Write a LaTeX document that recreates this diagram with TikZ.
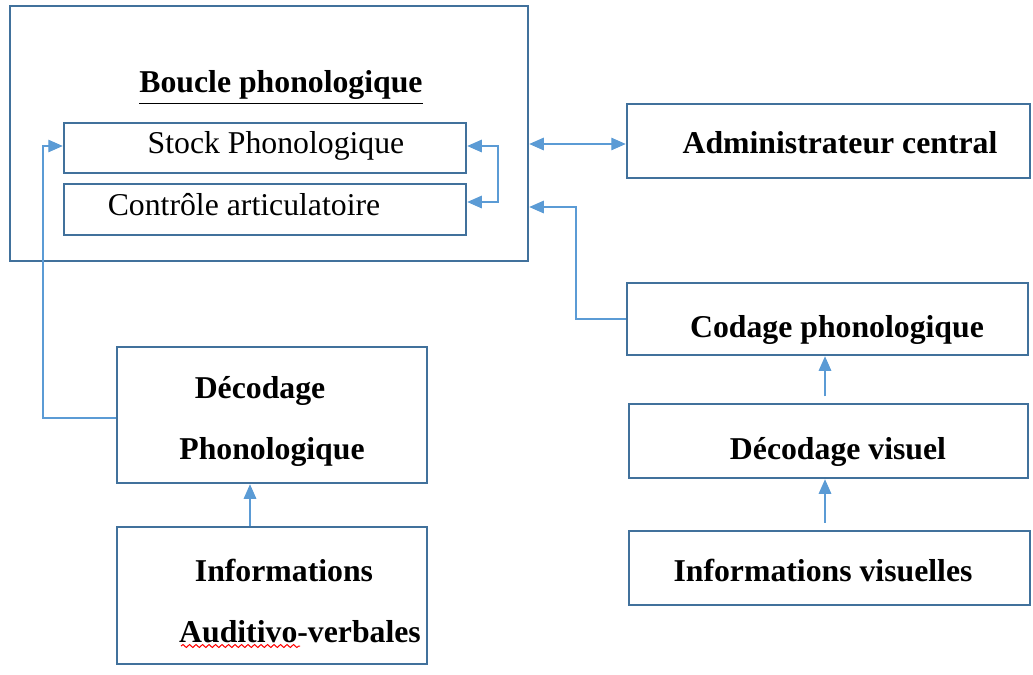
\documentclass[tikz,border=0pt]{standalone}
\usepackage{fontspec}
\setmainfont{Liberation Serif}
\usetikzlibrary{positioning,calc,arrows.meta,fit,decorations.pathmorphing}
\definecolor{boxblue}{HTML}{41719C}
\definecolor{linkblue}{HTML}{5B9BD5}

\begin{document}
\begin{tikzpicture}[x=0.4pt,y=-0.4pt,
box/.style={draw=boxblue,line width=1pt,inner sep=0pt,rectangle},
txt/.style={font=\fontsize{12.7pt}{15pt}\selectfont,inner sep=0pt,text height=0.95em,text depth=0.1em},
btxt/.style={txt,font=\fontsize{12.7pt}{15pt}\selectfont\bfseries},
link/.style={draw=linkblue,line width=0.5pt,-{Triangle[length=5.8pt,width=5pt]}},
dlink/.style={draw=linkblue,line width=0.5pt,{Triangle[length=5.8pt,width=5pt]}-{Triangle[length=5.8pt,width=5pt]}}]
\useasboundingbox (0,0) rectangle (1033,674);

% boxes
\node[box,fit={(10,6) (528,261)}](boucle){};
\node[box,fit={(64,123) (466,173)}](stock){};
\node[box,fit={(64,184) (466,235)}](ctrl){};
\node[box,fit={(627,104) (1030,178)}](admin){};
\node[box,fit={(627,283) (1028,355)}](codage){};
\node[box,fit={(629,404) (1028,478)}](decV){};
\node[box,fit={(629,531) (1030,605)}](infoV){};
\node[box,fit={(117,347) (427,483)}](decP){};
\node[box,fit={(117,527) (427,664)}](infoA){};

% texts
\node[btxt](boucleT) at (281,82){\underline{Boucle phonologique}};
\node[txt](stockT) at (276,143){Stock Phonologique};
\node[txt](ctrlT) at (244,205){Contrôle articulatoire};
\node[btxt](adminT) at (840,143){Administrateur central};
\node[btxt](codageT) at (837,327){Codage phonologique};
\node[btxt](decVT) at (838,449){Décodage visuel};
\node[btxt](infoVT) at (823,571){Informations visuelles};
\node[btxt](decPT1) at (260,388){Décodage};
\node[btxt](decPT2) at (272,449){Phonologique};
\node[btxt](infoAT1) at (284,571){Informations};
\node[btxt](infoAT2) at (300,632){Auditivo-verbales};
\draw[red,line width=0.4pt,decorate,decoration={snake,amplitude=0.6pt,segment length=2.6pt}]
  (181,646) -- (300,646);

% bends
\coordinate (brkT) at (498,146);
\coordinate (brkB) at (498,202);
\coordinate (cj) at (576,207);
\coordinate (dj) at (43,146);
\coordinate (ax) at (250,0);
\coordinate (bx) at (825,0);

% edges
\draw[dlink] ([yshift=-1.2pt]admin.west) -- ([yshift=-1.2pt]admin.west -| boucle.east);
\draw[dlink] (stock.east |- brkT) -| (brkB) -- (ctrl.east |- brkB);
\draw[link] (codage.west) -| (cj) -- (cj -| boucle.east);
\draw[link] (decP.west |- 0,418) -| (dj) -- (dj -| stock.west);
\draw[link] (infoA.north -| ax) -- (decP.south -| ax);
\draw[link,shorten <=2.6pt] (decV.north -| bx) -- (codage.south -| bx);
\draw[link,shorten <=2.8pt] (infoV.north -| bx) -- (decV.south -| bx);
\end{tikzpicture}
\end{document}
